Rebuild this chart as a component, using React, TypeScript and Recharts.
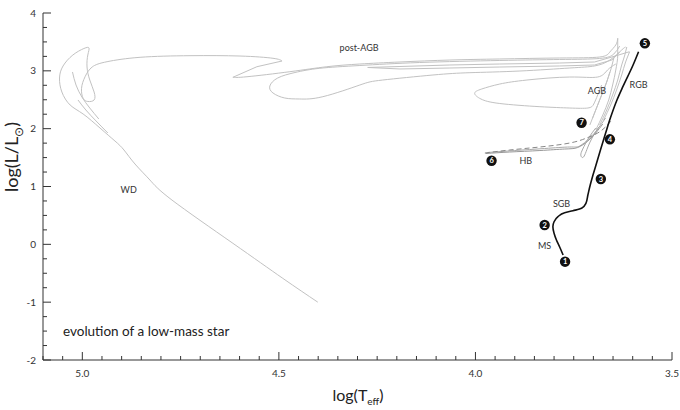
import React from 'react';
import { ComposedChart, Line, Scatter, XAxis, YAxis } from 'recharts';

// log(Teff), log(L/Lsun) pairs along each branch of the track

const msRgbTrack = [
  { x: 3.777, y: -0.185 }, { x: 3.786, y: -0.041 }, { x: 3.794, y: 0.075 }, { x: 3.8, y: 0.191 },
  { x: 3.803, y: 0.305 }, { x: 3.8, y: 0.391 }, { x: 3.79, y: 0.478 }, { x: 3.773, y: 0.547 },
  { x: 3.752, y: 0.581 }, { x: 3.73, y: 0.623 }, { x: 3.719, y: 0.709 }, { x: 3.714, y: 0.853 },
  { x: 3.708, y: 1.026 }, { x: 3.701, y: 1.199 }, { x: 3.692, y: 1.401 }, { x: 3.682, y: 1.631 },
  { x: 3.669, y: 1.92 }, { x: 3.657, y: 2.179 }, { x: 3.64, y: 2.496 }, { x: 3.625, y: 2.726 },
  { x: 3.599, y: 3.101 }, { x: 3.585, y: 3.331 },
];

const hbSolidA = [
  { x: 3.974, y: 1.57 }, { x: 3.913, y: 1.596 }, { x: 3.836, y: 1.622 }, { x: 3.773, y: 1.648 },
  { x: 3.74, y: 1.674 }, { x: 3.714, y: 1.787 }, { x: 3.694, y: 1.925 }, { x: 3.676, y: 2.081 },
];

const hbSolidB = [
  { x: 3.969, y: 1.588 }, { x: 3.9, y: 1.622 }, { x: 3.824, y: 1.657 }, { x: 3.76, y: 1.683 },
  { x: 3.735, y: 1.7 }, { x: 3.709, y: 1.839 }, { x: 3.689, y: 1.994 }, { x: 3.669, y: 2.184 },
];

const hbDashed = [
  { x: 3.976, y: 1.579 }, { x: 3.913, y: 1.631 }, { x: 3.836, y: 1.683 }, { x: 3.76, y: 1.752 },
  { x: 3.717, y: 1.839 }, { x: 3.689, y: 1.925 }, { x: 3.669, y: 2.029 }, { x: 3.653, y: 2.15 },
];

const flashLoop = [
  { x: 3.694, y: 2.011 }, { x: 3.712, y: 1.839 }, { x: 3.727, y: 1.648 }, { x: 3.732, y: 1.545 },
  { x: 3.728, y: 1.501 }, { x: 3.722, y: 1.545 }, { x: 3.714, y: 1.683 }, { x: 3.702, y: 1.856 },
  { x: 3.686, y: 2.029 },
];

const agbFan = [
  [
    { x: 3.694, y: 1.977 }, { x: 3.676, y: 2.236 }, { x: 3.661, y: 2.496 }, { x: 3.651, y: 2.755 },
    { x: 3.643, y: 3.014 }, { x: 3.638, y: 3.274 }, { x: 3.638, y: 3.563 },
  ],
  [
    { x: 3.684, y: 2.063 }, { x: 3.666, y: 2.323 }, { x: 3.651, y: 2.582 }, { x: 3.638, y: 2.841 },
    { x: 3.628, y: 3.101 }, { x: 3.62, y: 3.274 }, { x: 3.615, y: 3.412 },
  ],
  [
    { x: 3.674, y: 2.15 }, { x: 3.656, y: 2.409 }, { x: 3.641, y: 2.669 }, { x: 3.628, y: 2.928 },
    { x: 3.618, y: 3.153 }, { x: 3.608, y: 3.326 },
  ],
  [
    { x: 3.702, y: 2.184 }, { x: 3.684, y: 2.496 }, { x: 3.669, y: 2.755 }, { x: 3.656, y: 3.014 },
    { x: 3.648, y: 3.222 },
  ],
  [
    { x: 3.709, y: 2.063 }, { x: 3.694, y: 2.323 }, { x: 3.679, y: 2.582 }, { x: 3.666, y: 2.807 },
    { x: 3.658, y: 2.98 },
  ],
];

const postAgbTrack = [
  { x: 3.638, y: 3.563 }, { x: 3.643, y: 3.447 }, { x: 3.658, y: 3.326 }, { x: 3.684, y: 3.239 },
  { x: 3.786, y: 3.222 }, { x: 3.938, y: 3.205 }, { x: 4.065, y: 3.187 }, { x: 4.192, y: 3.153 },
  { x: 4.294, y: 3.118 }, { x: 4.378, y: 3.071 }, { x: 4.472, y: 2.985 }, { x: 4.581, y: 2.898 },
  { x: 4.617, y: 2.888 },
];

const zigzag = [
  { x: 4.617, y: 2.888 }, { x: 4.556, y: 3.071 }, { x: 4.492, y: 3.17 },
];

const whiteDwarfTrack = [
  { x: 4.492, y: 3.17 }, { x: 4.515, y: 3.217 }, { x: 4.599, y: 3.256 }, { x: 4.726, y: 3.262 },
  { x: 4.853, y: 3.234 }, { x: 4.937, y: 3.158 }, { x: 4.975, y: 3.066 }, { x: 4.993, y: 2.898 },
  { x: 5.002, y: 2.698 }, { x: 4.998, y: 2.525 }, { x: 4.986, y: 2.47 }, { x: 4.97, y: 2.496 },
  { x: 4.97, y: 2.634 }, { x: 4.981, y: 2.841 }, { x: 4.988, y: 3.066 }, { x: 4.986, y: 3.274 },
  { x: 4.983, y: 3.395 }, { x: 4.996, y: 3.386 }, { x: 5.024, y: 3.274 }, { x: 5.049, y: 3.084 },
  { x: 5.058, y: 2.876 }, { x: 5.052, y: 2.634 }, { x: 5.031, y: 2.409 }, { x: 4.998, y: 2.254 },
  { x: 4.955, y: 2.011 }, { x: 4.917, y: 1.787 }, { x: 4.894, y: 1.631 }, { x: 4.866, y: 1.389 },
  { x: 4.828, y: 1.112 }, { x: 4.772, y: 0.766 }, { x: 4.617, y: 0.018 }, { x: 4.49, y: -0.588 },
  { x: 4.401, y: -1.0 },
];

const spikeA = [
  { x: 5.025, y: 2.98 }, { x: 5.016, y: 2.755 }, { x: 5.001, y: 2.547 }, { x: 4.981, y: 2.357 },
  { x: 4.958, y: 2.167 },
];

const spikeB = [
  { x: 5.011, y: 2.496 }, { x: 4.991, y: 2.323 }, { x: 4.965, y: 2.133 }, { x: 4.935, y: 1.925 },
];

const pulseLoop = [
  { x: 3.618, y: 3.412 }, { x: 3.628, y: 3.36 }, { x: 3.658, y: 3.187 }, { x: 3.697, y: 3.084 },
  { x: 3.76, y: 3.049 }, { x: 3.887, y: 2.997 }, { x: 4.014, y: 2.968 }, { x: 4.108, y: 2.928 },
  { x: 4.236, y: 2.841 }, { x: 4.294, y: 2.755 }, { x: 4.388, y: 2.553 }, { x: 4.447, y: 2.513 },
  { x: 4.485, y: 2.53 }, { x: 4.515, y: 2.617 }, { x: 4.523, y: 2.738 }, { x: 4.503, y: 2.876 },
  { x: 4.459, y: 2.971 }, { x: 4.396, y: 3.044 }, { x: 4.294, y: 3.092 }, { x: 4.142, y: 3.144 },
  { x: 3.938, y: 3.179 }, { x: 3.786, y: 3.196 }, { x: 3.684, y: 3.214 }, { x: 3.648, y: 3.291 },
  { x: 3.633, y: 3.429 },
];

const hairpin = [
  { x: 3.608, y: 3.331 }, { x: 3.653, y: 3.239 }, { x: 3.697, y: 3.153 }, { x: 3.786, y: 3.135 },
  { x: 3.938, y: 3.118 }, { x: 4.065, y: 3.101 }, { x: 4.192, y: 3.075 }, { x: 4.274, y: 3.058 },
  { x: 4.192, y: 3.032 }, { x: 4.065, y: 3.049 }, { x: 3.938, y: 3.066 }, { x: 3.786, y: 3.084 },
  { x: 3.697, y: 3.101 }, { x: 3.653, y: 3.187 }, { x: 3.633, y: 3.326 },
];

const bigLoop = [
  { x: 3.643, y: 3.118 }, { x: 3.664, y: 3.014 }, { x: 3.689, y: 2.893 }, { x: 3.76, y: 2.893 },
  { x: 3.869, y: 2.841 }, { x: 3.938, y: 2.772 }, { x: 3.984, y: 2.686 }, { x: 4.002, y: 2.611 },
  { x: 3.986, y: 2.513 }, { x: 3.938, y: 2.435 }, { x: 3.836, y: 2.38 }, { x: 3.76, y: 2.357 },
  { x: 3.714, y: 2.357 }, { x: 3.699, y: 2.426 }, { x: 3.689, y: 2.582 }, { x: 3.679, y: 2.755 },
];

const stageMarkers = [
  { x: 3.772, y: -0.3, n: 1 }, { x: 3.824, y: 0.334, n: 2 }, { x: 3.681, y: 1.13, n: 3 },
  { x: 3.658, y: 1.816, n: 4 }, { x: 3.569, y: 3.476, n: 5 }, { x: 3.959, y: 1.446, n: 6 },
  { x: 3.73, y: 2.103, n: 7 },
];

const phaseLabels = [
  { x: 3.824, y: -0.024, t: 'MS' }, { x: 3.781, y: 0.697, t: 'SGB' }, { x: 3.872, y: 1.441, t: 'HB' },
  { x: 3.691, y: 2.656, t: 'AGB' }, { x: 3.585, y: 2.755, t: 'RGB' }, { x: 4.296, y: 3.39, t: 'post-AGB' },
  { x: 4.882, y: 0.939, t: 'WD' },
];

const xLabelTicks = [5.0, 4.5, 4.0, 3.5];
const yLabelTicks = [-2, -1, 0, 1, 2, 3, 4];

const xTicks = Array.from({ length: 33 }, (_, i) => Math.round((3.5 + i * 0.05) * 100) / 100);
const yTicks = Array.from({ length: 25 }, (_, i) => -2 + i * 0.25);

const AXIS = '#333';
const GRAY = '#c2c2c2';
const FONT = 'Lato, "Open Sans", sans-serif';

const isXMajor = (v: number) => xLabelTicks.some((t) => Math.abs(t - v) < 1e-6);
const isYMajor = (v: number) => yLabelTicks.some((t) => Math.abs(t - v) < 1e-6);

const BottomTick = ({ x, y, payload }: any) => {
  const major = isXMajor(payload.value);
  return (
    <g>
      <line x1={x} y1={y} x2={x} y2={y - (major ? 8 : 4)} stroke={AXIS} />
      {major && (
        <text x={x} y={y + 17} textAnchor="middle" fontSize={10} fill="#333">
          {payload.value.toFixed(1)}
        </text>
      )}
    </g>
  );
};

const TopTick = ({ x, y, payload }: any) => (
  <line x1={x} y1={y} x2={x} y2={y + (isXMajor(payload.value) ? 8 : 4)} stroke={AXIS} />
);

const LeftTick = ({ x, y, payload }: any) => {
  const major = isYMajor(payload.value);
  return (
    <g>
      <line x1={x} y1={y} x2={x + (major ? 8 : 4)} y2={y} stroke={AXIS} />
      {major && (
        <text x={x - 7} y={y + 3.5} textAnchor="end" fontSize={10} fill="#333">
          {String(payload.value)}
        </text>
      )}
    </g>
  );
};

const RightTick = ({ x, y, payload }: any) => (
  <line x1={x} y1={y} x2={x - (isYMajor(payload.value) ? 8 : 4)} y2={y} stroke={AXIS} />
);

const StageMarker = ({ cx, cy, payload }: any) => (
  <g>
    <circle cx={cx} cy={cy} r={5.2} fill="#111" />
    <text x={cx} y={cy + 2.6} textAnchor="middle" fontSize={7.5} fontWeight="bold" fill="#fff">
      {payload.n}
    </text>
  </g>
);

const PhaseLabel = ({ cx, cy, payload }: any) => (
  <text x={cx} y={cy + 3} textAnchor="middle" fontSize={9} fill="#333">
    {payload.t}
  </text>
);

const grayLine = (data: { x: number; y: number }[], key: string, type: any = 'natural', stroke = GRAY) => (
  <Line
    key={key}
    data={data}
    dataKey="y"
    type={type}
    stroke={stroke}
    strokeWidth={1}
    dot={false}
    activeDot={false}
    isAnimationActive={false}
  />
);

export default function App() {
  return (
    <div style={{ position: 'absolute', left: 0, top: 0, width: 680, height: 410, background: '#fff', fontFamily: FONT }}>
      <ComposedChart width={680} height={410} margin={{ top: 13, right: 8, bottom: 20, left: 8 }}>
        <XAxis
          dataKey="x"
          type="number"
          domain={[3.5, 5.1]}
          reversed
          allowDataOverflow
          ticks={xTicks}
          interval={0}
          tickSize={0}
          tickMargin={0}
          tick={BottomTick}
          height={30}
          axisLine={{ stroke: AXIS }}
        />
        <XAxis
          xAxisId="top"
          orientation="top"
          type="number"
          domain={[3.5, 5.1]}
          reversed
          allowDataOverflow
          ticks={xTicks}
          interval={0}
          tickSize={0}
          tickMargin={0}
          tick={TopTick}
          height={0}
          axisLine={{ stroke: AXIS }}
        />
        <YAxis
          dataKey="y"
          type="number"
          domain={[-2, 4]}
          allowDataOverflow
          ticks={yTicks}
          interval={0}
          tickSize={0}
          tickMargin={0}
          tick={LeftTick}
          width={35}
          axisLine={{ stroke: AXIS }}
        />
        <YAxis
          yAxisId="right"
          orientation="right"
          type="number"
          domain={[-2, 4]}
          allowDataOverflow
          ticks={yTicks}
          interval={0}
          tickSize={0}
          tickMargin={0}
          tick={RightTick}
          width={0}
          axisLine={{ stroke: AXIS }}
        />

        {agbFan.map((d, i) => grayLine(d, `fan${i}`, 'monotoneY'))}
        {grayLine(postAgbTrack, 'postAgb')}
        {grayLine(zigzag, 'zigzag', 'linear')}
        {grayLine(whiteDwarfTrack, 'wd')}
        {grayLine(spikeA, 'spikeA')}
        {grayLine(spikeB, 'spikeB')}
        {grayLine(pulseLoop, 'pulseLoop')}
        {grayLine(hairpin, 'hairpin', 'linear')}
        {grayLine(bigLoop, 'bigLoop')}
        {grayLine(flashLoop, 'flashLoop', 'natural', '#aaa')}
        {grayLine(hbSolidB, 'hbB', 'natural', '#aaa')}
        {grayLine(hbSolidA, 'hbA', 'natural', '#999')}
        <Line
          data={hbDashed}
          dataKey="y"
          type="natural"
          stroke="#888"
          strokeWidth={1}
          strokeDasharray="5 3"
          dot={false}
          activeDot={false}
          isAnimationActive={false}
        />
        {/* MS -> SGB -> RGB, strictly rising in luminosity */}
        <Line
          data={msRgbTrack}
          dataKey="y"
          type="monotoneY"
          stroke="#111"
          strokeWidth={1.6}
          dot={false}
          activeDot={false}
          isAnimationActive={false}
        />
        <Scatter data={phaseLabels} dataKey="y" shape={PhaseLabel} isAnimationActive={false} />
        <Scatter data={stageMarkers} dataKey="y" shape={StageMarker} isAnimationActive={false} />
      </ComposedChart>

      <div
        style={{
          position: 'absolute',
          left: 13,
          top: 157,
          transform: 'translate(-50%, -50%) rotate(-90deg)',
          whiteSpace: 'nowrap',
          fontSize: 18,
          color: '#222',
        }}
      >
        log(L/L<sub style={{ fontSize: 12 }}>⊙</sub>)
      </div>
      <div
        style={{
          position: 'absolute',
          left: 358,
          top: 396,
          transform: 'translate(-50%, -50%)',
          whiteSpace: 'nowrap',
          fontSize: 16,
          color: '#222',
        }}
      >
        log(T<sub style={{ fontSize: 10 }}>eff</sub>)
      </div>
      <div style={{ position: 'absolute', left: 63, top: 323, fontSize: 13.5, color: '#222', whiteSpace: 'nowrap' }}>
        evolution of a low-mass star
      </div>
    </div>
  );
}
